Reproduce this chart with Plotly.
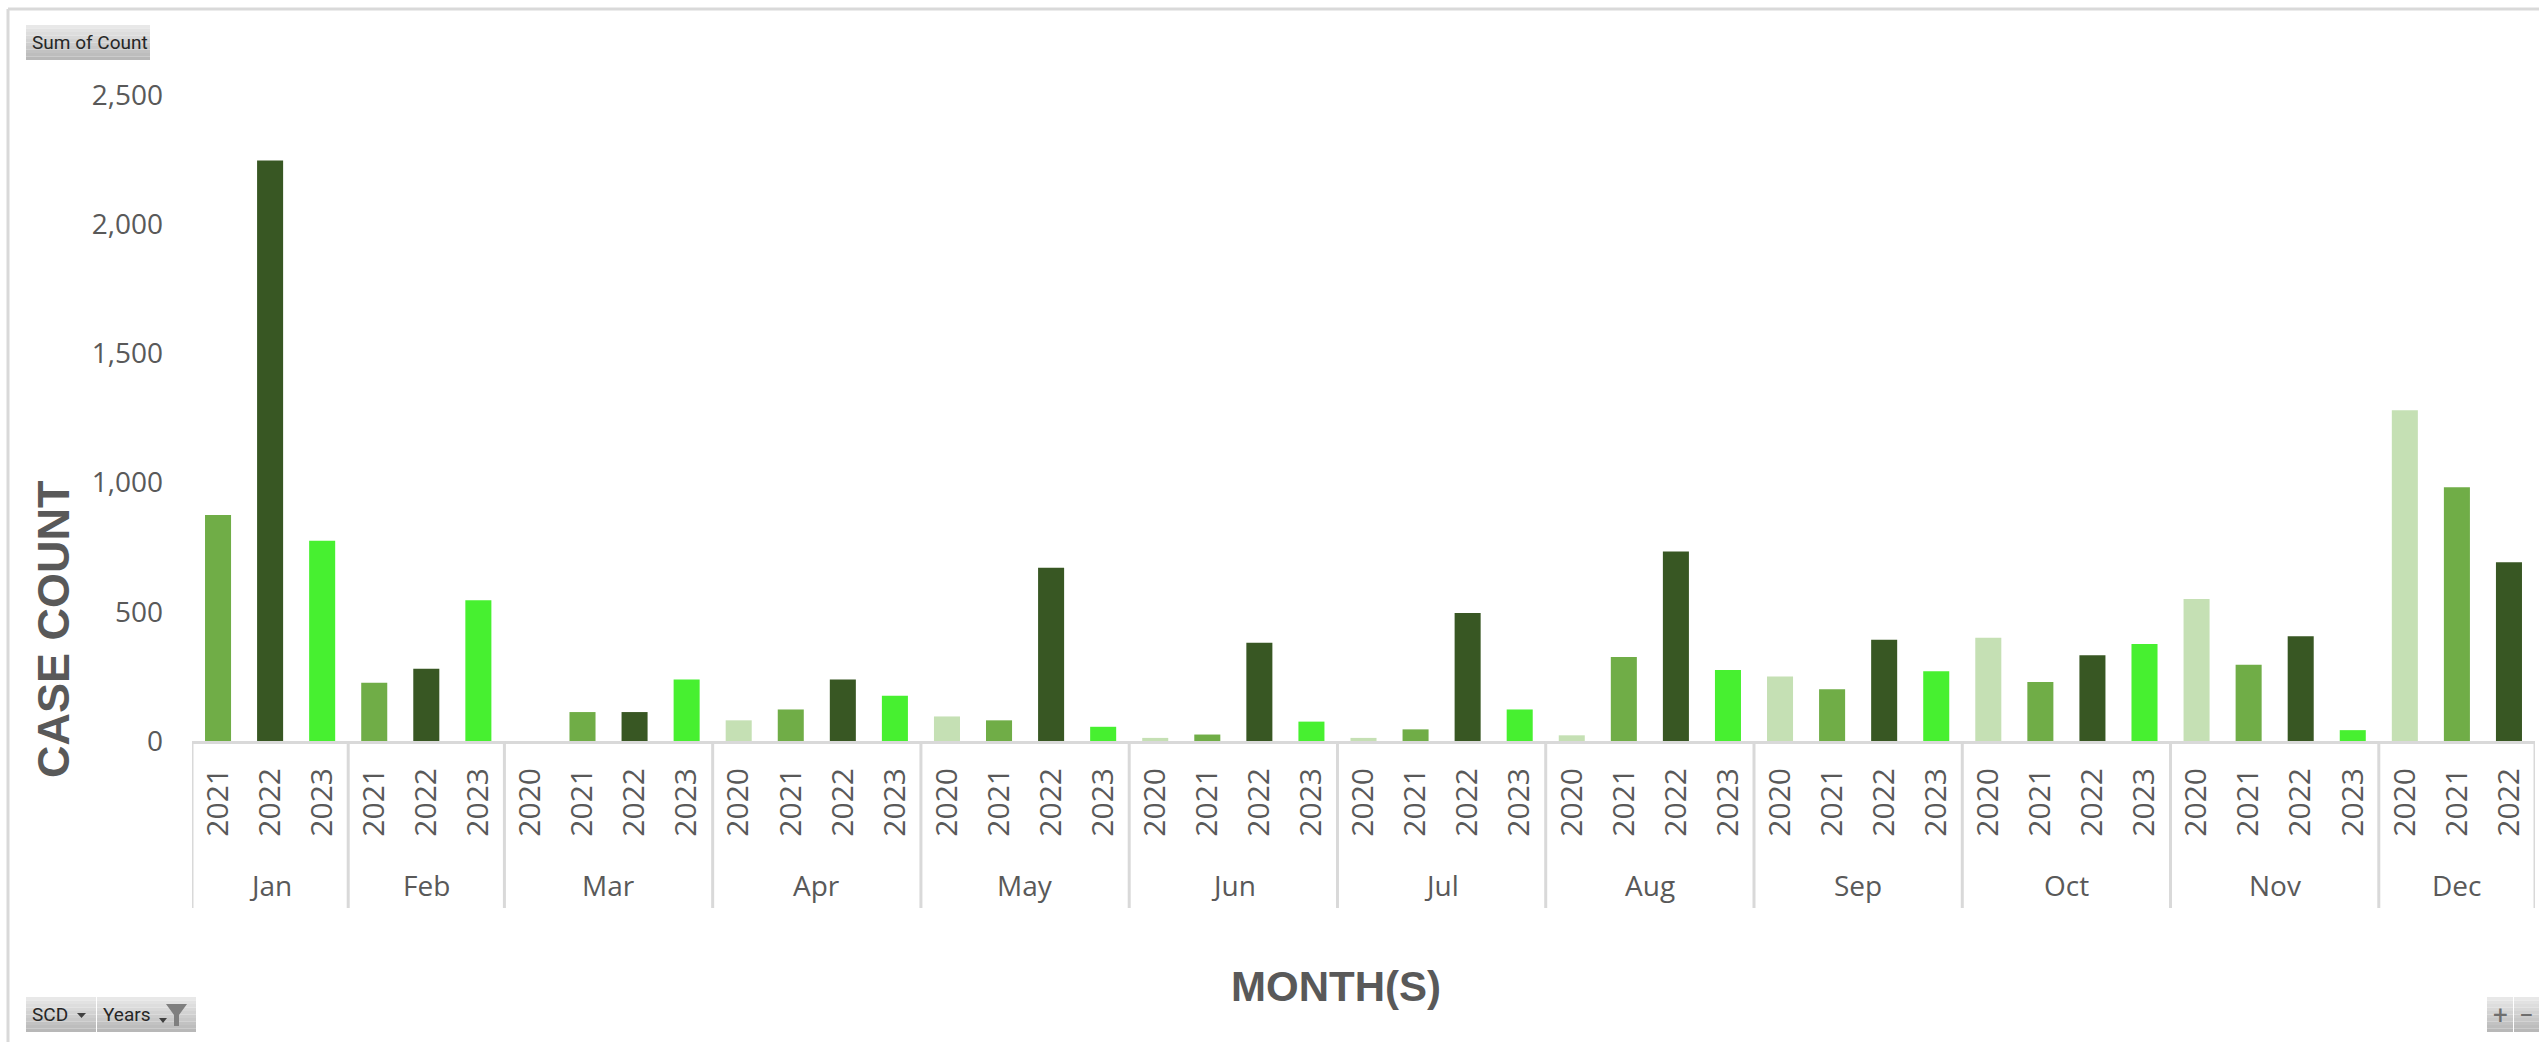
import plotly.graph_objects as go

month_names = ["Jan","Feb","Mar","Apr","May","Jun","Jul","Aug","Sep","Oct","Nov","Dec"]
months = ["Jan"]*3 + ["Feb"]*3 + ["Mar"]*4 + ["Apr"]*4 + ["May"]*4 + ["Jun"]*4 + ["Jul"]*4 + ["Aug"]*4 + ["Sep"]*4 + ["Oct"]*4 + ["Nov"]*4 + ["Dec"]*3
years = ["2021","2022","2023", "2021","2022","2023",
         "2020","2021","2022","2023", "2020","2021","2022","2023",
         "2020","2021","2022","2023", "2020","2021","2022","2023",
         "2020","2021","2022","2023", "2020","2021","2022","2023",
         "2020","2021","2022","2023", "2020","2021","2022","2023",
         "2020","2021","2022","2023", "2020","2021","2022"]
counts = [875,2247,775, 225,280,545,
          0,112,112,238, 80,122,238,175,
          95,80,670,55, 12,25,380,75,
          12,45,495,122, 22,325,733,275,
          250,200,392,270, 400,228,332,375,
          550,295,405,42, 1280,982,692]
year_colors = {"2020":"#c5e0b4","2021":"#70ad47","2022":"#385723","2023":"#47f030"}
y_ticks = [0,500,1000,1500,2000,2500]

W, H = 2539, 1042
L, R, T, B = 192, 2535, 95, 741
AXIS = "#d9d9d9"
TEXT = "#595959"
def px(x): return (x-L)/(R-L)
def py(y): return (B-y)/(B-T)

shapes, annos = [], []
def button(x0,y0,x1,y1,text,size=19,tx=None,anchor="center",color="#262626"):
    n=10
    for i in range(n):
        c = int(232-(232-184)*i/(n-1))
        shapes.append(dict(type="rect",xref="paper",yref="paper",
            x0=px(x0),x1=px(x1),y0=py(y0+(y1-y0)*i/n),y1=py(y0+(y1-y0)*(i+1)/n),
            fillcolor=f"rgb({c},{c},{c})",line_width=0,layer="above"))
    annos.append(dict(text=text,xref="paper",yref="paper",x=px(tx if tx else (x0+x1)/2),y=py((y0+y1)/2),
        showarrow=False,xanchor=anchor,yanchor="middle",font=dict(size=size,color=color,family="Roboto")))
def poly(pts,color):
    d = "M" + " L".join(f"{px(x):.5f},{py(y):.5f}" for x,y in pts) + " Z"
    shapes.append(dict(type="path",path=d,xref="paper",yref="paper",fillcolor=color,line_width=0,layer="above"))
def frame(x0,y0,x1,y1):
    shapes.append(dict(type="line",xref="paper",yref="paper",x0=px(x0),x1=px(x1),y0=py(y0),y1=py(y1),
        line=dict(color=AXIS,width=3),layer="above"))

frame(8,9,2539,9)
frame(8,9,8,1042)
button(26,25,150,60,"Sum of Count",19,tx=30,anchor="left")
button(26,997,96,1032,"SCD",19,tx=30,anchor="left")
button(97,997,196,1032,"Years",19,tx=101,anchor="left")
poly([(77,1013),(86,1013),(81.5,1018)],"#404040")
poly([(159,1018),(167,1018),(163,1023)],"#404040")
poly([(166,1004),(187,1004),(179,1015),(179,1026),(174,1026),(174,1015)],"#7f7f7f")
button(2487,997,2513,1032,"+",26,color="#6e6e6e")
button(2514,997,2539,1032,"−",26,color="#6e6e6e")

keys = [f"{m} {y}" for m,y in zip(months,years)]
start = 0
for m in month_names:
    n = months.count(m)
    shapes.append(dict(type="line",xref="x",yref="paper",x0=start-0.5,x1=start-0.5,y0=py(741),y1=py(908),
        line=dict(color=AXIS,width=3)))
    annos.append(dict(text=m,xref="x",yref="paper",x=start+(n-1)/2,y=py(885),showarrow=False,
        xanchor="center",yanchor="middle",font=dict(size=28,color=TEXT,family="Open Sans")))
    start += n
shapes.append(dict(type="line",xref="x",yref="paper",x0=start-0.5,x1=start-0.5,y0=py(741),y1=py(908),
    line=dict(color=AXIS,width=3)))
annos.append(dict(text="<b>MONTH(S)</b>",xref="paper",yref="paper",x=px(1336),y=py(986),showarrow=False,
    xanchor="center",yanchor="middle",font=dict(size=42,family="Liberation Sans",color=TEXT)))
annos.append(dict(text="<b>CASE COUNT</b>",xref="paper",yref="paper",x=px(53),y=py(629),showarrow=False,textangle=-90,
    xanchor="center",yanchor="middle",font=dict(size=45,family="Liberation Sans",color=TEXT)))

fig = go.Figure(go.Bar(x=keys,y=counts,
    marker=dict(color=[year_colors[y] for y in years],line=dict(width=0)),
    hovertemplate="%{x}: %{y:,}<extra></extra>"))
fig.update_layout(width=W,height=H,margin=dict(l=L,r=W-R,t=T,b=H-B),
    paper_bgcolor="white",plot_bgcolor="white",bargap=0.5,showlegend=False,
    font=dict(family="Open Sans",color=TEXT),
    shapes=shapes,annotations=annos)
fig.update_xaxes(type="category",categoryorder="array",categoryarray=keys,tickvals=keys,ticktext=years,
    range=[-0.5,len(keys)-0.5],tickfont=dict(size=30,color=TEXT),tickangle=-90,ticklabelstandoff=12,
    showline=True,linecolor=AXIS,linewidth=3,showgrid=False,ticks="")
fig.update_yaxes(range=[0,2500],tickvals=y_ticks,tickformat=",",tickfont=dict(size=28,color=TEXT),
    showgrid=False,zeroline=False,showline=False,ticks="",ticklabelstandoff=28)
fig.write_html("out.html",config={"displayModeBar":False},post_script="document.body.style.margin='0';")
